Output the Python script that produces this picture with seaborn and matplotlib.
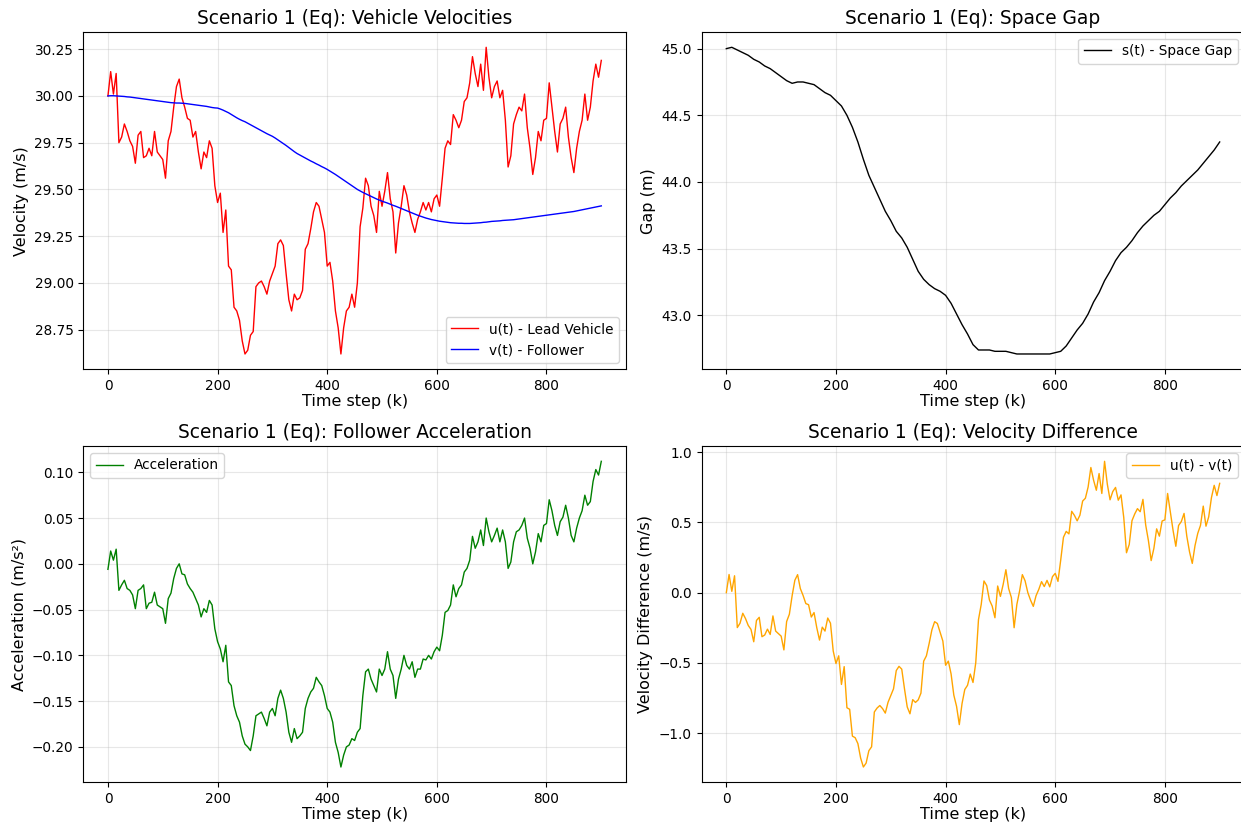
import numpy as np
import matplotlib
matplotlib.use("Agg")
import matplotlib.pyplot as plt
import seaborn as sns

# --- data ---
# time steps for the noisy series (every 5 steps)
steps = np.arange(0, 901, 5)

# u(t) - lead vehicle velocity (m/s)
lead_vel = [
    30.00, 30.13, 30.01, 30.12, 29.75, 29.78, 29.85, 29.81, 29.76, 29.73,
    29.64, 29.79, 29.81, 29.67, 29.68, 29.72, 29.68, 29.81, 29.70, 29.68,
    29.66, 29.56, 29.76, 29.81, 29.94, 30.05, 30.09, 29.99, 29.94, 29.88,
    29.87, 29.78, 29.81, 29.70, 29.61, 29.70, 29.67, 29.76, 29.72, 29.52,
    29.43, 29.48, 29.27, 29.39, 29.09, 29.07, 28.87, 28.85, 28.80, 28.69,
    28.62, 28.64, 28.72, 28.74, 28.98, 29.00, 29.01, 28.98, 28.94, 29.01,
    29.05, 29.09, 29.21, 29.23, 29.20, 29.05, 28.91, 28.85, 28.94, 28.91,
    28.92, 28.96, 29.18, 29.21, 29.29, 29.38, 29.43, 29.41, 29.34, 29.27,
    29.09, 29.11, 29.01, 28.85, 28.76, 28.62, 28.76, 28.85, 28.87, 28.94,
    28.87, 29.00, 29.30, 29.40, 29.56, 29.52, 29.41, 29.36, 29.27, 29.49,
    29.41, 29.49, 29.59, 29.45, 29.38, 29.16, 29.32, 29.41, 29.52, 29.47,
    29.38, 29.32, 29.27, 29.34, 29.38, 29.43, 29.39, 29.43, 29.38, 29.45,
    29.47, 29.41, 29.56, 29.72, 29.76, 29.74, 29.90, 29.87, 29.83, 29.87,
    29.97, 29.99, 30.07, 30.21, 30.12, 30.05, 30.17, 30.03, 30.26, 30.10,
    29.99, 30.05, 30.08, 29.99, 30.03, 29.87, 29.62, 29.68, 29.85, 29.90,
    29.94, 29.92, 30.01, 29.83, 29.72, 29.58, 29.67, 29.81, 29.76, 29.87,
    29.88, 30.07, 29.94, 29.81, 29.70, 29.85, 29.88, 29.94, 29.78, 29.67,
    29.59, 29.72, 29.81, 29.87, 30.01, 29.87, 29.94, 30.08, 30.17, 30.10,
    30.19,
]

# v(t) - follower velocity (m/s)
follower_vel = [
    30.000, 30.001, 30.001, 30.000, 29.999, 29.998, 29.997, 29.995, 29.994, 29.992,
    29.990, 29.988, 29.986, 29.984, 29.982, 29.980, 29.978, 29.976, 29.974, 29.972,
    29.970, 29.968, 29.966, 29.964, 29.963, 29.962, 29.962, 29.961, 29.960, 29.958,
    29.956, 29.954, 29.952, 29.950, 29.948, 29.946, 29.944, 29.941, 29.938, 29.936,
    29.935, 29.930, 29.924, 29.917, 29.910, 29.901, 29.892, 29.883, 29.875, 29.868,
    29.862, 29.854, 29.846, 29.838, 29.830, 29.822, 29.814, 29.806, 29.798, 29.791,
    29.784, 29.775, 29.765, 29.755, 29.745, 29.735, 29.724, 29.713, 29.702, 29.692,
    29.684, 29.676, 29.668, 29.660, 29.652, 29.645, 29.637, 29.630, 29.622, 29.615,
    29.607, 29.598, 29.589, 29.580, 29.570, 29.560, 29.550, 29.540, 29.530, 29.520,
    29.510, 29.500, 29.492, 29.484, 29.477, 29.470, 29.463, 29.456, 29.449, 29.443,
    29.437, 29.432, 29.427, 29.421, 29.415, 29.410, 29.404, 29.398, 29.392, 29.386,
    29.380, 29.374, 29.368, 29.362, 29.357, 29.352, 29.347, 29.343, 29.339, 29.336,
    29.333, 29.330, 29.328, 29.326, 29.324, 29.322, 29.321, 29.320, 29.319, 29.319,
    29.318, 29.318, 29.318, 29.319, 29.320, 29.321, 29.322, 29.324, 29.325, 29.327,
    29.329, 29.330, 29.331, 29.332, 29.334, 29.335, 29.336, 29.337, 29.338, 29.340,
    29.342, 29.344, 29.346, 29.348, 29.350, 29.352, 29.354, 29.356, 29.358, 29.360,
    29.362, 29.364, 29.366, 29.368, 29.370, 29.372, 29.374, 29.376, 29.378, 29.380,
    29.382, 29.385, 29.388, 29.391, 29.394, 29.397, 29.400, 29.403, 29.406, 29.409,
    29.412,
]

# follower acceleration (m/s^2)
accel = [
    -0.006, 0.014, 0.004, 0.016, -0.029, -0.023, -0.018, -0.027, -0.029, -0.034,
    -0.049, -0.029, -0.027, -0.023, -0.049, -0.043, -0.042, -0.031, -0.045, -0.047,
    -0.049, -0.065, -0.038, -0.032, -0.016, -0.005, 0.000, -0.011, -0.012, -0.022,
    -0.027, -0.031, -0.038, -0.045, -0.058, -0.049, -0.053, -0.040, -0.045, -0.071,
    -0.085, -0.093, -0.107, -0.089, -0.129, -0.133, -0.155, -0.166, -0.173, -0.188,
    -0.197, -0.200, -0.204, -0.188, -0.166, -0.164, -0.162, -0.169, -0.177, -0.162,
    -0.158, -0.166, -0.147, -0.138, -0.147, -0.162, -0.184, -0.195, -0.180, -0.191,
    -0.188, -0.184, -0.158, -0.147, -0.140, -0.136, -0.124, -0.129, -0.133, -0.144,
    -0.158, -0.162, -0.173, -0.195, -0.206, -0.222, -0.209, -0.200, -0.198, -0.191,
    -0.193, -0.184, -0.180, -0.144, -0.118, -0.115, -0.126, -0.133, -0.140, -0.115,
    -0.122, -0.115, -0.096, -0.115, -0.122, -0.147, -0.126, -0.115, -0.100, -0.111,
    -0.115, -0.107, -0.124, -0.115, -0.115, -0.104, -0.105, -0.100, -0.104, -0.096,
    -0.091, -0.095, -0.078, -0.053, -0.051, -0.045, -0.023, -0.036, -0.027, -0.023,
    -0.009, -0.005, 0.004, 0.030, 0.017, 0.024, 0.037, 0.020, 0.050, 0.035,
    0.024, 0.031, 0.039, 0.024, 0.037, 0.024, -0.005, 0.002, 0.024, 0.035,
    0.037, 0.042, 0.050, 0.028, 0.017, 0.000, 0.013, 0.033, 0.024, 0.042,
    0.044, 0.070, 0.058, 0.042, 0.031, 0.046, 0.051, 0.064, 0.050, 0.031,
    0.024, 0.039, 0.050, 0.058, 0.075, 0.064, 0.068, 0.090, 0.103, 0.097,
    0.112,
]

# s(t) - space gap (m), every 10 steps
gap_steps = np.arange(0, 901, 10)
gap = [
    45.00, 45.01, 44.99, 44.97, 44.95, 44.92, 44.90, 44.87, 44.85, 44.82,
    44.79, 44.76, 44.74, 44.75, 44.75, 44.74, 44.73, 44.70, 44.67, 44.65,
    44.61, 44.57, 44.50, 44.41, 44.30, 44.17, 44.05, 43.96, 43.87, 43.78,
    43.71, 43.63, 43.58, 43.51, 43.42, 43.33, 43.27, 43.23, 43.20, 43.18,
    43.15, 43.09, 43.01, 42.93, 42.86, 42.78, 42.74, 42.74, 42.74, 42.73,
    42.73, 42.73, 42.72, 42.71, 42.71, 42.71, 42.71, 42.71, 42.71, 42.71,
    42.72, 42.73, 42.77, 42.83, 42.89, 42.94, 43.01, 43.10, 43.17, 43.26,
    43.33, 43.41, 43.47, 43.51, 43.56, 43.62, 43.67, 43.71, 43.75, 43.78,
    43.83, 43.88, 43.92, 43.97, 44.01, 44.05, 44.09, 44.14, 44.19, 44.24,
    44.30,
]

# velocity difference is u(t) - v(t)
vel_diff = np.array(lead_vel) - np.array(follower_vel)

TITLE = 13.4
LABEL = 11.5
TICK = 9.8
LEG = 9.8

fig, axes = plt.subplots(2, 2, figsize=(12.41, 8.24), dpi=100)
ax1, ax2, ax3, ax4 = axes[0, 0], axes[0, 1], axes[1, 0], axes[1, 1]

# Vehicle velocities
sns.lineplot(x=steps, y=lead_vel, ax=ax1, color="red", linewidth=1,
             label="u(t) - Lead Vehicle")
sns.lineplot(x=steps, y=follower_vel, ax=ax1, color="blue", linewidth=1,
             label="v(t) - Follower")
ax1.set_title("Scenario 1 (Eq): Vehicle Velocities", fontsize=TITLE)
ax1.set_ylabel("Velocity (m/s)", fontsize=LABEL)
ax1.legend(loc="lower right", fontsize=LEG)

# Space gap
sns.lineplot(x=gap_steps, y=gap, ax=ax2, color="black", linewidth=1,
             label="s(t) - Space Gap")
ax2.set_title("Scenario 1 (Eq): Space Gap", fontsize=TITLE)
ax2.set_ylabel("Gap (m)", fontsize=LABEL)
ax2.legend(loc="upper right", fontsize=LEG)

# Follower acceleration
sns.lineplot(x=steps, y=accel, ax=ax3, color="green", linewidth=1,
             label="Acceleration")
ax3.set_title("Scenario 1 (Eq): Follower Acceleration", fontsize=TITLE)
ax3.set_ylabel("Acceleration (m/s²)", fontsize=LABEL)
ax3.legend(loc="upper left", fontsize=LEG)

# Velocity difference
sns.lineplot(x=steps, y=vel_diff, ax=ax4, color="orange", linewidth=1,
             label="u(t) - v(t)")
ax4.set_title("Scenario 1 (Eq): Velocity Difference", fontsize=TITLE)
ax4.set_ylabel("Velocity Difference (m/s)", fontsize=LABEL)
ax4.legend(loc="upper right", fontsize=LEG)

for ax in (ax1, ax2, ax3, ax4):
    ax.set_xlabel("Time step (k)", fontsize=LABEL, labelpad=1)
    ax.grid(True, alpha=0.3)
    ax.tick_params(labelsize=TICK)

# panel placement matching the reference (right column runs off the edge)
ax1.set_position([0.0671, 0.5518, 0.4373, 0.4094])
ax2.set_position([0.5654, 0.5518, 0.4373, 0.4094])
ax3.set_position([0.0671, 0.0506, 0.4373, 0.4081])
ax4.set_position([0.5654, 0.0506, 0.4373, 0.4081])

plt.savefig("out.png", dpi=100)
